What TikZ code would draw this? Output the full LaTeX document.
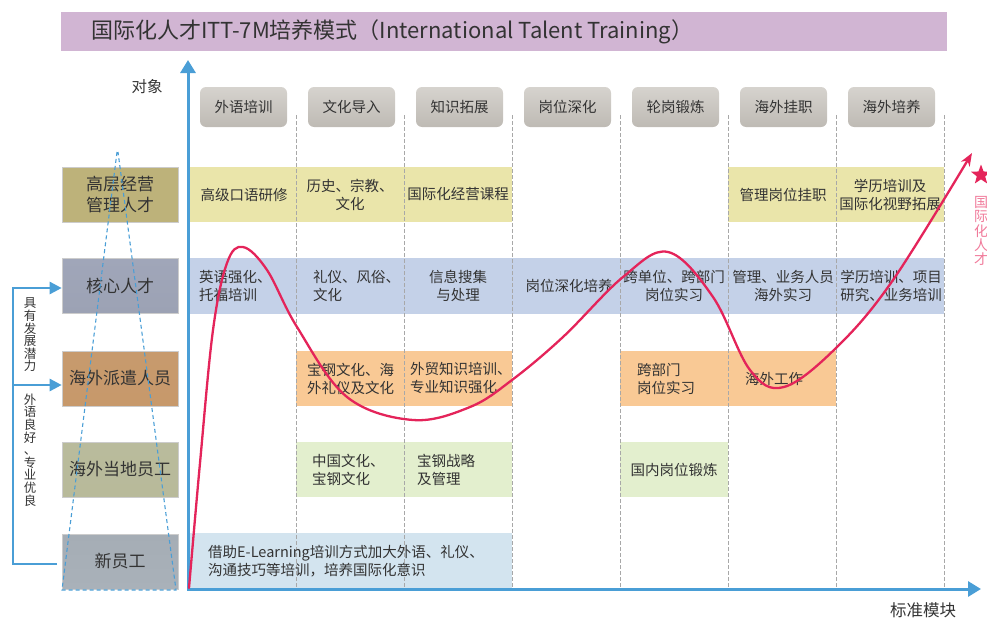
\documentclass[tikz,border=0pt]{standalone}
\usepackage{fontspec}
\setmainfont{Noto Sans CJK SC}
\usetikzlibrary{arrows.meta,shapes.geometric}
\definecolor{titlebg}{HTML}{D1B5D3}
\definecolor{txt}{HTML}{333333}
\definecolor{axisblue}{HTML}{4A9ED6}
\definecolor{curvered}{HTML}{E4245A}
\definecolor{pinktxt}{HTML}{F07A9A}
\definecolor{cyellow}{HTML}{EAE5AA}
\definecolor{cblue}{HTML}{C4D1E8}
\definecolor{corange}{HTML}{F9C995}
\definecolor{cgreen}{HTML}{E3EFCE}
\definecolor{clblue}{HTML}{D3E4EF}
\definecolor{dashgray}{HTML}{A8A8A8}
\begin{document}
\begin{tikzpicture}[x=1pt,y=-1pt,
  celltext/.style={font=\fontsize{14.5}{18}\selectfont, text=txt, inner sep=0pt, align=center},
  celltextl/.style={celltext, anchor=west, align=left},
  rowlabel/.style={draw=black!20, line width=0.6pt, minimum width=116pt, minimum height=55pt, inner sep=0pt,
     font=\fontsize{17}{21}\selectfont, text=txt, align=center},
  header/.style={rounded corners=6pt, minimum width=87pt, minimum height=40pt, inner sep=0pt,
     top color={rgb,255:red,214;green,211;blue,206}, middle color={rgb,255:red,246;green,245;blue,243}, bottom color={rgb,255:red,190;green,186;blue,180},
     font=\fontsize{14.5}{18}\selectfont, text=txt},
  coldash/.style={dashgray, dash pattern=on 4pt off 2pt, line width=0.8pt},
  vtext/.style={font=\fontsize{12.5}{12.6}\selectfont, text=txt, align=center, inner sep=0pt},
]
\useasboundingbox (0,0) rectangle (987,618);
% title
\fill[titlebg] (61,12) rectangle (947,51);
\node[anchor=west, font=\fontsize{22}{26}\selectfont, text=txt, inner sep=0pt] (title) at (91,32)
  {国际化人才ITT-7M培养模式（International Talent Training）};
% cells
\fill[cyellow] (189,167) rectangle (512,222);
\fill[cyellow] (728,167) rectangle (944,222);
\fill[cblue] (189,258) rectangle (944,314);
\fill[corange] (296,351) rectangle (512,406);
\fill[corange] (620,351) rectangle (836,406);
\fill[cgreen] (296,442) rectangle (512,497);
\fill[cgreen] (620,442) rectangle (728,497);
\fill[clblue] (189,533) rectangle (512,588);
% column dashed lines
\foreach \x in {296,404,512,620,728,836,944} \draw[coldash] (\x,115) -- (\x,588);
% headers
\node[header] (h1) at (243.5,107) {外语培训};
\node[header] (h2) at (351.5,107) {文化导入};
\node[header] (h3) at (459.5,107) {知识拓展};
\node[header] (h4) at (567.5,107) {岗位深化};
\node[header] (h5) at (675.5,107) {轮岗锻炼};
\node[header] (h6) at (783.5,107) {海外挂职};
\node[header] (h7) at (891.5,107) {海外培养};
% row labels
\node[rowlabel, top color={rgb,255:red,189;green,178;blue,122}, middle color={rgb,255:red,222;green,214;blue,164}, bottom color={rgb,255:red,189;green,178;blue,122}] (top) at (120,194.5) {高层经营\\管理人才};
\node[rowlabel, top color={rgb,255:red,160;green,166;blue,185}, middle color={rgb,255:red,200;green,208;blue,228}, bottom color={rgb,255:red,156;green,162;blue,180}] (core) at (120,286) {核心人才};
\node[rowlabel, top color={rgb,255:red,199;green,154;blue,109}, middle color={rgb,255:red,217;green,177;blue,137}, bottom color={rgb,255:red,199;green,153;blue,107}] (disp) at (120,378.5) {海外派遣人员};
\node[rowlabel, top color={rgb,255:red,185;green,187;blue,156}, middle color={rgb,255:red,228;green,233;blue,202}, bottom color={rgb,255:red,184;green,186;blue,154}] (local) at (120,469.5) {海外当地员工};
\node[rowlabel, top color={rgb,255:red,165;green,173;blue,181}, middle color={rgb,255:red,213;green,227;blue,236}, bottom color={rgb,255:red,169;green,177;blue,185}] (newst) at (120,561.5) {新员工};
% dashed triangle
\draw[axisblue, dash pattern=on 4pt off 3pt, line width=1.1pt] (117,152) -- (62,590) -- (176,590) -- (118,152);
% left bracket
\coordinate (bb) at (57,564);
\coordinate (bl) at (13,564);
\coordinate (bt) at (13,288);
\coordinate (bm) at (13,385);
\draw[axisblue, line width=2.5pt, -{Triangle[length=12pt,width=12pt]}] (bb) -- (bl) -- (bt) -- ([yshift=-2pt]core.west);
\draw[axisblue, line width=2.5pt, -{Triangle[length=12pt,width=12pt]}] (bm) -- ([yshift=-6.5pt]disp.west);
\node[vtext] (v1) at (30,335) {具\\有\\发\\展\\潜\\力};
\node[vtext] (v2) at (30,450) {外\\语\\良\\好\\、\\专\\业\\优\\良};
% axes
\coordinate (ytip) at (188,60);
\coordinate (org) at (188,589);
\coordinate (xtip) at (981,589);
\draw[axisblue, line width=3pt, {Triangle[length=13pt,width=15pt]}-{Triangle[length=13pt,width=15pt]}] (ytip) -- (org) -- (xtip);
\node[font=\fontsize{15.5}{18}\selectfont, text=txt, inner sep=0pt] (obj) at (147,87) {对象};
\node[font=\fontsize{16.5}{18}\selectfont, text=txt, inner sep=0pt] (std) at (923,610) {标准模块};
% cell texts
\node[celltext] (a11) at (244,194.5) {高级口语研修};
\node[celltext] (a12) at (350,194.5) {历史、宗教、\\文化};
\node[celltext] (a13) at (458,194.5) {国际化经营课程};
\node[celltext] (a16) at (783,194.5) {管理岗位挂职};
\node[celltext] (a17) at (890,194.5) {学历培训及\\国际化视野拓展};
\node[celltextl] (a21) at (199,286) {英语强化、\\托福培训};
\node[celltextl] (a22) at (313,286) {礼仪、风俗、\\文化};
\node[celltext] (a23) at (458,286) {信息搜集\\与处理};
\node[celltext] (a24) at (569,286) {岗位深化培养};
\node[celltext] (a25) at (674,286) {跨单位、跨部门\\岗位实习};
\node[celltext] (a26) at (783,286) {管理、业务人员\\海外实习};
\node[celltext] (a27) at (891,286) {学历培训、项目\\研究、业务培训};
\node[celltextl] (a32) at (307,378.5) {宝钢文化、海\\外礼仪及文化};
\node[celltextl] (a33) at (410,378.5) {外贸知识培训、\\专业知识强化};
\node[celltextl] (a35) at (637,378.5) {跨部门\\岗位实习};
\node[celltextl] (a36) at (745,378.5) {海外工作};
\node[celltextl] (a42) at (312,469.5) {中国文化、\\宝钢文化};
\node[celltextl] (a43) at (417,469.5) {宝钢战略\\及管理};
\node[celltext] (a45) at (674,469.5) {国内岗位锻炼};
\node[celltextl] (a51) at (208,561.5) {借助E-Learning培训方式加大外语、礼仪、\\沟通技巧等培训，培养国际化意识};
% curve
\draw[curvered, line width=2.3pt, line cap=round, -{Stealth[length=13pt,width=10pt]}]
  plot[smooth, tension=0.6] coordinates {(189,588) (200,463) (213,330) (227,263) (243,247) (267,270) (297,327) (347,397) (413,420) (470,407) (512,380) (563,337) (623,277) (668,252) (713,297) (750,370) (784,387) (837,347) (893,280) (972,153)};
\node[star, star points=5, star point ratio=2.4, fill=curvered, minimum size=21pt, inner sep=0pt] (star) at (981,175) {};
\node[font=\fontsize{14}{14.3}\selectfont, text=pinktxt, align=center, inner sep=0pt] (itl) at (981,231) {国\\际\\化\\人\\才};
\end{tikzpicture}
\end{document}
